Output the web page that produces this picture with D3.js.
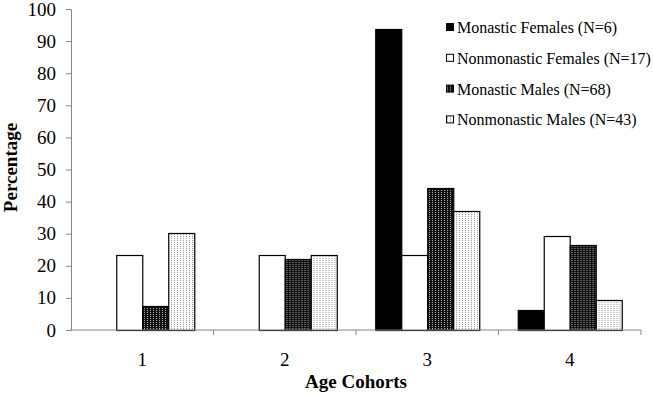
<!DOCTYPE html>
<html>
<head>
<meta charset="utf-8">
<script src="https://cdn.jsdelivr.net/npm/d3@7"></script>
<style>
  body { margin: 0; background: #fff; }
  svg { display: block; font-family: "Liberation Serif", "Times New Roman", serif; }
</style>
</head>
<body>
<svg id="chart" width="653" height="397"></svg>
<script>
const cohorts = ['1', '2', '3', '4'];
const seriesNames = ['Monastic Females (N=6)', 'Nonmonastic Females (N=17)', 'Monastic Males (N=68)', 'Nonmonastic Males (N=43)'];
const monasticFemales = [0, 0, 93.75, 6.25];
const nonmonasticFemales = [23.5, 23.5, 23.5, 29.4];
const monasticMales = [7.4, 22.1, 44.1, 26.5];
const nonmonasticMales = [30.2, 23.3, 37.2, 9.3];
const yTicks = [0, 10, 20, 30, 40, 50, 60, 70, 80, 90, 100];

const seriesValues = [monasticFemales, nonmonasticFemales, monasticMales, nonmonasticMales];
const fills = ['#000', '#fff', 'url(#darkDots)', 'url(#lightDots)'];

const margin = {top: 9, right: 12, bottom: 67, left: 71};
const width = 653, height = 397;

const svg = d3.select('#chart');

// patterns for the male series
const defs = svg.append('defs');
const dark = defs.append('pattern').attr('id', 'darkDots')
  .attr('patternUnits', 'userSpaceOnUse').attr('width', 3).attr('height', 2);
dark.append('rect').attr('width', 3).attr('height', 2).attr('fill', '#111');
dark.append('rect').attr('x', 1).attr('width', 1).attr('height', 1).attr('fill', '#aaa');

const light = defs.append('pattern').attr('id', 'lightDots')
  .attr('patternUnits', 'userSpaceOnUse').attr('width', 3).attr('height', 2);
light.append('rect').attr('width', 3).attr('height', 2).attr('fill', '#fff');
light.append('rect').attr('x', 1).attr('width', 1).attr('height', 1).attr('fill', '#999');

const x = d3.scaleBand().domain(cohorts).range([margin.left, width - margin.right]);
const xInner = d3.scaleBand().domain(d3.range(seriesNames.length))
  .range([0, x.bandwidth()]).paddingInner(0).paddingOuter(0.74);
const y = d3.scaleLinear().domain([0, 100]).range([height - margin.bottom, margin.top]);

const axisColor = '#868686';

// y axis
const yAxis = svg.append('g')
  .attr('transform', `translate(${margin.left},0)`)
  .call(d3.axisLeft(y).tickValues(yTicks).tickSize(5).tickPadding(10));
yAxis.select('.domain').attr('stroke', axisColor);
yAxis.selectAll('.tick line').attr('stroke', axisColor);
yAxis.selectAll('.tick text')
  .attr('font-size', 19).attr('fill', '#000')
  .attr('font-family', '"Liberation Serif", serif');

// bars
const groups = svg.append('g').selectAll('g')
  .data(cohorts)
  .join('g')
  .attr('transform', d => `translate(${x(d)},0)`);

groups.selectAll('rect')
  .data((c, ci) => seriesValues.map((vals, si) => ({si, v: vals[ci]})))
  .join('rect')
  .filter(d => d.v > 0)
  .attr('x', d => xInner(d.si) + 0.5)
  .attr('width', xInner.bandwidth())
  .attr('y', d => Math.round(y(d.v)) + 0.5)
  .attr('height', d => y(0) - Math.round(y(d.v)))
  .attr('fill', d => fills[d.si])
  .attr('stroke', '#000')
  .attr('stroke-width', 1.2);

// x axis with ticks at band boundaries
const xAxisG = svg.append('g')
  .attr('transform', `translate(0,${y(0)})`);
xAxisG.append('line')
  .attr('x1', margin.left).attr('x2', width - margin.right)
  .attr('stroke', axisColor);
const bounds = cohorts.map(c => x(c)).concat([x(cohorts[cohorts.length - 1]) + x.bandwidth()]);
xAxisG.selectAll('.bt').data(bounds.slice(1)).join('line')
  .attr('x1', d => d).attr('x2', d => d).attr('y1', 0).attr('y2', 5)
  .attr('stroke', axisColor);
xAxisG.selectAll('.lbl').data(cohorts).join('text')
  .attr('x', d => x(d) + x.bandwidth() / 2)
  .attr('y', 36)
  .attr('text-anchor', 'middle')
  .attr('font-size', 19)
  .text(d => d);

// axis titles
svg.append('text')
  .attr('x', margin.left + (width - margin.left - margin.right) / 2)
  .attr('y', 388)
  .attr('text-anchor', 'middle')
  .attr('font-size', 19).attr('font-weight', 'bold')
  .text('Age Cohorts');

svg.append('text')
  .attr('transform', `translate(17,${y(50) - 2}) rotate(-90)`)
  .attr('text-anchor', 'middle')
  .attr('font-size', 19).attr('font-weight', 'bold')
  .text('Percentage');

// legend
const legend = svg.append('g').attr('transform', 'translate(446,23)');
const items = legend.selectAll('g').data(seriesNames).join('g')
  .attr('transform', (d, i) => `translate(0,${i * 30.8})`);
items.append('rect')
  .attr('x', 0.5).attr('y', 0.5).attr('width', 7).attr('height', 7)
  .attr('fill', (d, i) => fills[i])
  .attr('stroke', '#000');
items.append('text')
  .attr('x', 11).attr('y', 10)
  .attr('font-size', 16)
  .text(d => d);
</script>
</body>
</html>
